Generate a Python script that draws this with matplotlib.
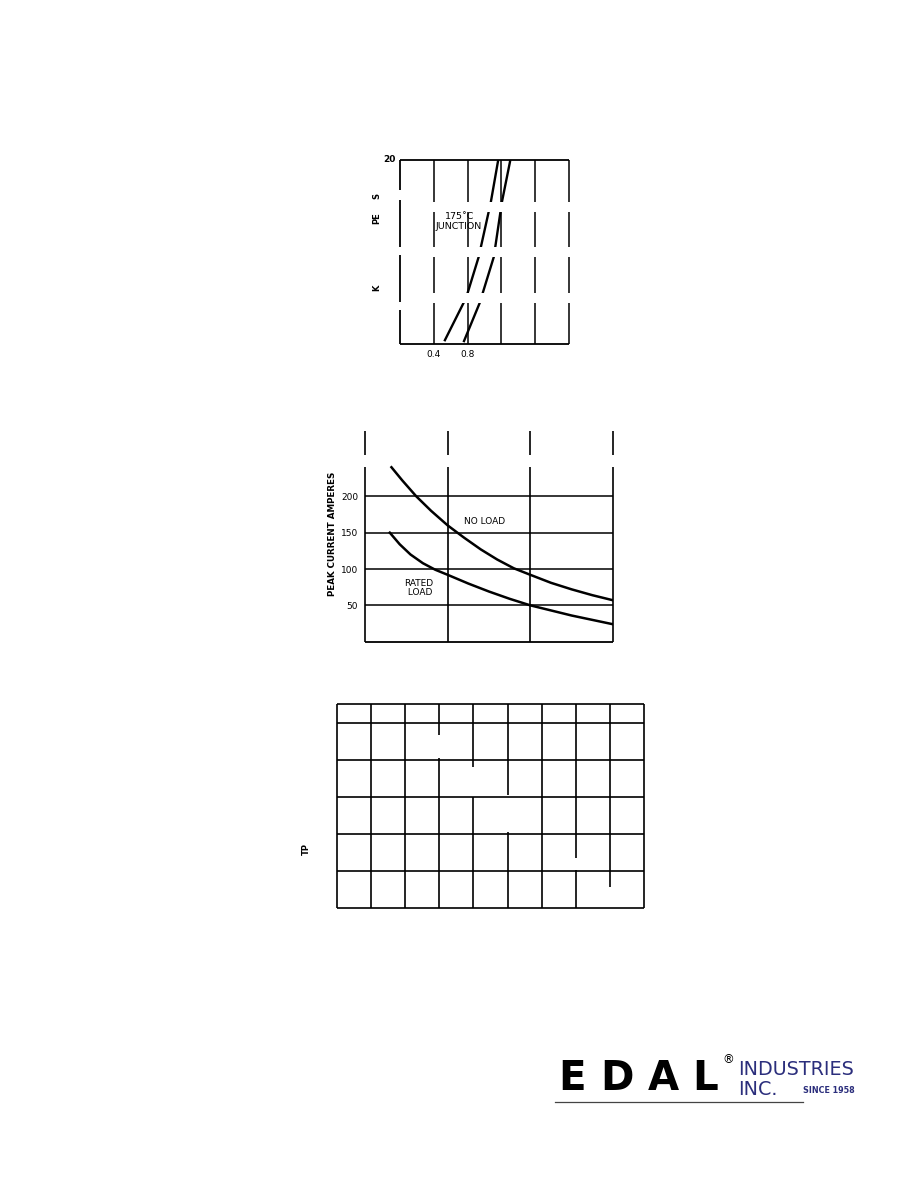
import matplotlib
matplotlib.use('Agg')
import matplotlib.pyplot as plt
from matplotlib.lines import Line2D

W, H = 920, 1190
NAVY = '#2b2e7c'
NARROW = ['Liberation Sans Narrow', 'DejaVu Sans']

# chart 1 - forward voltage (x) vs current (y), 175 C junction
fwd_grid_x = [0.4, 0.8, 1.2, 1.6, 2.0]
fwd_tick_x = [0.4, 0.8]
fwd_tick_lbl = ['0.4', '0.8']
fwd_v1 = [0.525, 0.752, 0.80, 0.931, 1.075, 1.158, 1.163]
fwd_i1 = [0.3, 4.46, 5.54, 9.46, 15.43, 19.78, 20.0]
fwd_v2 = [0.752, 0.943, 0.979, 1.110, 1.206, 1.301, 1.305]
fwd_i2 = [0.2, 4.46, 5.54, 9.46, 15.43, 19.78, 20.0]
# blank bands of the scan (y ranges where lines are missing)
fwd_bands = [(14.35, 15.43), (9.46, 10.54), (4.46, 5.54)]
fwd_left_gaps = [(15.65, 16.74), (9.67, 10.54), (3.7, 4.57)]

# chart 2 - peak surge current
surge_grid_x = [0, 1, 2, 3]
surge_grid_y = [50, 100, 150, 200]
surge_ticks = [200, 150, 100, 50]
noload_x = [0.32, 0.45, 0.62, 0.8, 1.0, 1.2, 1.4, 1.6, 1.8, 2.0, 2.25, 2.5, 2.75, 3.0]
noload_y = [240, 222, 200, 180, 160, 143, 127, 113, 101, 92, 81, 72, 64, 57]
rated_x = [0.30, 0.42, 0.55, 0.7, 0.85, 1.0, 1.25, 1.5, 1.75, 2.0, 2.25, 2.5, 2.75, 3.0]
rated_y = [150, 134, 120, 108, 99, 92, 80, 69, 59, 50, 43, 36, 30, 24]

# chart 3 - empty grid, vertical lines with missing pieces
grid3_cols = list(range(10))
grid3_rows = [0, 1, 2, 3, 4, 5, 5.5]
grid3_gaps = {3: [(4.05, 4.67)], 4: [(3.0, 3.81)], 5: [(2.06, 3.05)],
              7: [(1.03, 1.35)], 8: [(0.0, 0.58)]}


def px_axes(fig, x0, y0, x1, y1):
    ax = fig.add_axes([x0 / W, 1 - y1 / H, (x1 - x0) / W, (y1 - y0) / H])
    for s in ax.spines.values():
        s.set_visible(False)
    ax.tick_params(length=0)
    ax.set_xticks([])
    ax.set_yticks([])
    return ax


def segments(lo, hi, gaps):
    out = []
    start = lo
    for g0, g1 in sorted(gaps):
        if g0 > start:
            out.append((start, g0))
        start = g1
    if start < hi:
        out.append((start, hi))
    return out


fig = plt.figure(figsize=(W / 100, H / 100), dpi=100)
fig.patch.set_facecolor('white')

# ---------------- chart 1 ----------------
ax1 = px_axes(fig, 400, 160, 569, 344)
ax1.set_xlim(0, 2)
ax1.set_ylim(0, 20)
ax1.hlines([0, 20], 0, 2, color='black', lw=1.3, clip_on=False, zorder=2)
ax1.vlines(fwd_grid_x, 0, 20, color='black', lw=1.1, clip_on=False, zorder=2)
ax1.plot(fwd_v1, fwd_i1, color='black', lw=1.7, zorder=2, solid_capstyle='butt')
ax1.plot(fwd_v2, fwd_i2, color='black', lw=1.7, zorder=2, solid_capstyle='butt')
for lo, hi in fwd_bands:
    r = ax1.axhspan(lo, hi, xmin=0.012, xmax=1.02, fc='white', ec='none', zorder=3)
    r.set_clip_on(False)
for lo, hi in segments(0, 20, fwd_left_gaps):
    ax1.vlines(0, lo, hi, color='black', lw=1.3, clip_on=False, zorder=4)
ax1.set_xticks(fwd_tick_x)
ax1.set_xticklabels(fwd_tick_lbl, fontsize=6.5)
ax1.tick_params(axis='x', pad=4)
ax1.text(-0.05, 20, '20', ha='right', va='center', fontsize=6.5, fontweight='bold')
ax1.text(0.70, 13.3, '175\u02daC\nJUNCTION', ha='center', va='center',
         fontsize=6.8, family=NARROW, linespacing=1.05, zorder=5)
for txt, ypx in [('S', 196), ('PE', 218), ('K', 288)]:
    ax1.text(-0.27, (344 - ypx) / 9.2, txt, rotation=90, ha='center', va='center',
             fontsize=6, fontweight='bold')

# ---------------- chart 2 ----------------
ax2 = px_axes(fig, 365, 430.9, 613, 641.7)
ax2.set_xlim(0, 3)
ax2.set_ylim(0, 290)
ax2.hlines(surge_grid_y, 0, 3, color='black', lw=1.1, zorder=2)
ax2.hlines(0, 0, 3, color='black', lw=1.3, clip_on=False, zorder=2)
for x in surge_grid_x:
    for lo, hi in segments(0, 290, [(241, 257)]):
        ax2.vlines(x, lo, hi, color='black', lw=1.2, clip_on=False, zorder=2)
ax2.plot(noload_x, noload_y, color='black', lw=1.8, zorder=3)
ax2.plot(rated_x, rated_y, color='black', lw=1.8, zorder=3)
ax2.set_yticks(surge_ticks)
ax2.set_yticklabels([str(v) for v in surge_ticks], fontsize=6.5)
ax2.tick_params(axis='y', pad=5)
ax2.text(-0.133, 0.511, 'PEAK CURRENT AMPERES', transform=ax2.transAxes,
         rotation=90, ha='center', va='center', fontsize=6.3, fontweight='bold')
ax2.text(1.45, 165, 'NO LOAD', ha='center', va='center', fontsize=6.5, family=NARROW)
ax2.text(0.65, 74, 'RATED\n LOAD', ha='center', va='center', fontsize=6.5,
         family=NARROW, linespacing=1.1)

# ---------------- chart 3 ----------------
ax3 = px_axes(fig, 336.7, 704, 644.3, 908.3)
ax3.set_xlim(0, 9)
ax3.set_ylim(0, 5.5)
ax3.hlines(grid3_rows, 0, 9, color='black', lw=1.2, clip_on=False, zorder=2)
for c in grid3_cols:
    for lo, hi in segments(0, 5.5, grid3_gaps.get(c, [])):
        ax3.vlines(c, lo, hi, color='black', lw=1.2, clip_on=False, zorder=2)
ax3.text(-0.88, 1.6, 'TP', rotation=90, ha='center', va='center',
         fontsize=6, fontweight='bold')

# ---------------- logo ----------------
def ftxt(x, y, s, **kw):
    fig.text(x / W, 1 - y / H, s, **kw)

for ch, xc in zip('EDAL', [572, 617, 663, 705]):
    ftxt(xc, 1090, ch, ha='center', va='baseline', fontsize=29,
         fontweight='bold', color='black')
ftxt(728, 1063, '\u00ae', ha='center', va='baseline', fontsize=8.5, color='black')
ftxt(738, 1075, 'INDUSTRIES', ha='left', va='baseline', fontsize=13.8, color=NAVY)
ftxt(738, 1095, 'INC.', ha='left', va='baseline', fontsize=13.8, color=NAVY)
ftxt(803, 1093, 'SINCE 1958', ha='left', va='baseline', fontsize=5.8,
     fontweight='bold', color=NAVY)
fig.add_artist(Line2D([555 / W, 803 / W], [1 - 1102 / H, 1 - 1102 / H],
                      color='#444444', lw=0.9))

fig.savefig('out.png', dpi=100, facecolor='white')
